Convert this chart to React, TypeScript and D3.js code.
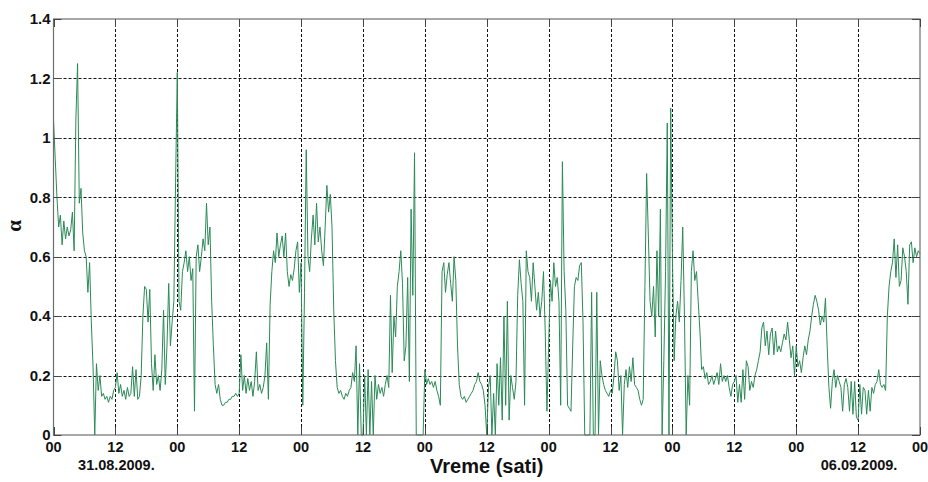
import React from "react";
import * as d3 from "d3";

// Chart geometry
const WIDTH = 928;
const HEIGHT = 482;
const PLOT = { left: 53.5, right: 920, top: 19, bottom: 435 };

// Samples are taken every 20 minutes (3 per hour), starting at 00h on 31.08.2009.
const SAMPLES_PER_HOUR = 3;

// alpha values, one array per day (72 samples each, the last day carries the closing 00h sample)
const alpha31Aug = [
  1.06, 0.93, 0.8, 0.7, 0.74, 0.64, 0.72, 0.66, 0.7, 0.67, 0.69, 0.75,
  0.62, 1.06, 1.25, 0.78, 0.83, 0.68, 0.62, 0.6, 0.48, 0.58, 0.38, 0.23,
  0.0, 0.24, 0.15, 0.2, 0.13, 0.14, 0.12, 0.13, 0.11, 0.13, 0.12, 0.15,
  0.16, 0.21, 0.14, 0.17, 0.13, 0.15, 0.12, 0.16, 0.13, 0.14, 0.23, 0.13,
  0.22, 0.12, 0.13, 0.2, 0.4, 0.5, 0.49, 0.38, 0.49, 0.24, 0.15, 0.27,
  0.17, 0.2, 0.15, 0.22, 0.42, 0.17, 0.3, 0.51, 0.3, 0.38, 0.45, 0.85,
];
const alpha01Sep = [
  1.22, 0.45, 0.42, 0.55, 0.58, 0.62, 0.55, 0.6, 0.52, 0.56, 0.08, 0.6,
  0.64, 0.55, 0.6, 0.66, 0.62, 0.78, 0.64, 0.7, 0.45, 0.3, 0.17, 0.14,
  0.17, 0.12, 0.1, 0.1, 0.11, 0.11, 0.12, 0.12, 0.13, 0.13, 0.14, 0.13,
  0.14, 0.27, 0.15, 0.2, 0.14, 0.19, 0.15, 0.18, 0.13, 0.18, 0.28, 0.15,
  0.17, 0.14, 0.16, 0.2, 0.31, 0.12, 0.44, 0.55, 0.62, 0.58, 0.68, 0.6,
  0.64, 0.67, 0.6, 0.68, 0.55, 0.5, 0.54, 0.52, 0.56, 0.62, 0.65, 0.48,
];
const alpha02Sep = [
  0.58, 0.1, 0.48, 0.96, 0.6, 0.55, 0.66, 0.74, 0.64, 0.78, 0.65, 0.7,
  0.62, 0.57, 0.7, 0.84, 0.75, 0.81, 0.7, 0.42, 0.25, 0.16, 0.14, 0.15,
  0.13, 0.12, 0.14, 0.13, 0.15, 0.16, 0.21, 0.18, 0.3, 0.0, 0.24, 0.0,
  0.0, 0.2, 0.0, 0.22, 0.0, 0.18, 0.0, 0.2, 0.12, 0.17, 0.14, 0.16,
  0.13, 0.17, 0.2, 0.16, 0.47, 0.21, 0.4, 0.33, 0.5, 0.55, 0.62, 0.51,
  0.25, 0.3, 0.53, 0.18, 0.76, 0.47, 0.95, 0.0, 0.0, 0.0, 0.0, 0.0,
];
const alpha03Sep = [
  0.22, 0.17, 0.19, 0.17, 0.18, 0.16, 0.18, 0.15, 0.13, 0.1, 0.55, 0.58,
  0.48, 0.54, 0.58, 0.51, 0.45, 0.6, 0.52, 0.3, 0.17, 0.13, 0.12, 0.13,
  0.11, 0.12, 0.13, 0.14, 0.15, 0.17, 0.18, 0.21, 0.18, 0.17, 0.15, 0.1,
  0.0, 0.16, 0.2, 0.0, 0.14, 0.0, 0.24, 0.1, 0.26, 0.05, 0.4, 0.1,
  0.45, 0.05, 0.2, 0.16, 0.12, 0.18, 0.47, 0.59, 0.51, 0.45, 0.1, 0.62,
  0.55, 0.53, 0.45, 0.58, 0.5, 0.42, 0.48, 0.4, 0.45, 0.55, 0.35, 0.08,
];
const alpha04Sep = [
  0.3, 0.52, 0.45, 0.58, 0.5, 0.53, 0.45, 0.1, 0.92, 0.55, 0.42, 0.1,
  0.09, 0.08, 0.3, 0.5, 0.53, 0.52, 0.57, 0.58, 0.38, 0.0, 0.0, 0.0,
  0.0, 0.48, 0.0, 0.0, 0.48, 0.0, 0.25, 0.2, 0.17, 0.15, 0.14, 0.13,
  0.15, 0.14, 0.2, 0.28, 0.25, 0.15, 0.2, 0.0, 0.17, 0.22, 0.16, 0.23,
  0.18, 0.26, 0.17, 0.16, 0.15, 0.12, 0.1, 0.12, 0.5, 0.88, 0.67, 0.45,
  0.4, 0.5, 0.33, 0.62, 0.4, 0.76, 0.0, 0.25, 0.55, 1.05, 0.0, 1.1,
];
const alpha05Sep = [
  0.6, 0.25, 0.4, 0.45, 0.38, 0.52, 0.7, 0.4, 0.0, 0.2, 0.1, 0.55,
  0.62, 0.52, 0.55, 0.45, 0.35, 0.22, 0.23, 0.19, 0.21, 0.17, 0.18, 0.2,
  0.17, 0.19, 0.21, 0.17, 0.24, 0.18, 0.2, 0.18, 0.2, 0.16, 0.13, 0.17,
  0.18, 0.2, 0.11, 0.17, 0.11, 0.22, 0.12, 0.25, 0.23, 0.15, 0.18, 0.16,
  0.2, 0.22, 0.25, 0.28, 0.36, 0.38, 0.3, 0.35, 0.27, 0.34, 0.36, 0.27,
  0.35, 0.28, 0.3, 0.28, 0.31, 0.34, 0.32, 0.38, 0.32, 0.26, 0.3, 0.2,
];
const alpha06Sep = [
  0.3, 0.23, 0.25, 0.21, 0.26, 0.3, 0.27, 0.32, 0.35, 0.4, 0.44, 0.47,
  0.45, 0.42, 0.37, 0.4, 0.38, 0.46, 0.3, 0.16, 0.09, 0.18, 0.22, 0.16,
  0.2, 0.18, 0.16, 0.08, 0.17, 0.19, 0.16, 0.08, 0.18, 0.07, 0.18, 0.06,
  0.05, 0.17, 0.07, 0.16, 0.15, 0.07, 0.15, 0.08, 0.16, 0.14, 0.17, 0.18,
  0.22, 0.17, 0.16, 0.17, 0.15, 0.4, 0.5, 0.55, 0.58, 0.66, 0.53, 0.64,
  0.5, 0.52, 0.63, 0.6, 0.55, 0.44, 0.64, 0.65, 0.58, 0.63, 0.6, 0.62,
  0.61,
];

const alpha = [
  ...alpha31Aug,
  ...alpha01Sep,
  ...alpha02Sep,
  ...alpha03Sep,
  ...alpha04Sep,
  ...alpha05Sep,
  ...alpha06Sep,
];

// Axis ticks
const xTickHours = d3.range(0, 169, 12);
const xTickLabels = xTickHours.map((h) => (h % 24 === 0 ? "00" : "12"));
const yTickValues = [0, 0.2, 0.4, 0.6, 0.8, 1.0, 1.2, 1.4];
const yTickLabels = ["0", "0.2", "0.4", "0.6", "0.8", "1", "1.2", "1.4"];
const dateHours = [12, 156];
const dateLabels = ["31.08.2009.", "06.09.2009."];

const FONT = "'Liberation Sans', Arial, Helvetica, sans-serif";
const LINE_COLOR = "#2b8a57";
const FRAME_COLOR = "#6e6e6e";
const TICK_LEN = 8;

export default function App() {
  const x = d3.scaleLinear().domain([0, 168]).range([PLOT.left, PLOT.right]);
  const y = d3.scaleLinear().domain([0, 1.4]).range([PLOT.bottom, PLOT.top]);

  const line = d3
    .line<number>()
    .x((_, i) => x(i / SAMPLES_PER_HOUR))
    .y((d) => y(d));

  const path = line(alpha) ?? "";

  return (
    <svg
      width={WIDTH}
      height={HEIGHT}
      style={{ position: "fixed", left: 0, top: 0, display: "block", background: "#fff" }}
    >
      <rect x={0} y={0} width={WIDTH} height={HEIGHT} fill="#fff" />

      {/* grid */}
      <g stroke="#111" strokeWidth={1} strokeDasharray="3,2" fill="none">
        {yTickValues.slice(1, -1).map((v) => (
          <line key={`gy${v}`} x1={PLOT.left} x2={PLOT.right} y1={Math.round(y(v)) + 0.5} y2={Math.round(y(v)) + 0.5} />
        ))}
        {xTickHours.slice(1, -1).map((h) => (
          <line key={`gx${h}`} x1={Math.round(x(h)) + 0.5} x2={Math.round(x(h)) + 0.5} y1={PLOT.top} y2={PLOT.bottom} />
        ))}
      </g>

      {/* data */}
      <path d={path} fill="none" stroke={LINE_COLOR} strokeWidth={1} strokeLinejoin="round" />

      {/* frame and inward ticks */}
      <rect
        x={PLOT.left}
        y={PLOT.top}
        width={PLOT.right - PLOT.left}
        height={PLOT.bottom - PLOT.top}
        fill="none"
        stroke={FRAME_COLOR}
        strokeWidth={1.2}
      />
      <g stroke="#444" strokeWidth={1}>
        {xTickHours.map((h) => (
          <g key={`tx${h}`}>
            <line x1={Math.round(x(h)) + 0.5} x2={Math.round(x(h)) + 0.5} y1={PLOT.bottom} y2={PLOT.bottom - TICK_LEN} />
            <line x1={Math.round(x(h)) + 0.5} x2={Math.round(x(h)) + 0.5} y1={PLOT.top} y2={PLOT.top + TICK_LEN} />
          </g>
        ))}
        {yTickValues.map((v) => (
          <g key={`ty${v}`}>
            <line x1={PLOT.left} x2={PLOT.left + TICK_LEN} y1={Math.round(y(v)) + 0.5} y2={Math.round(y(v)) + 0.5} />
            <line x1={PLOT.right} x2={PLOT.right - TICK_LEN} y1={Math.round(y(v)) + 0.5} y2={Math.round(y(v)) + 0.5} />
          </g>
        ))}
      </g>

      {/* y tick labels */}
      <g fontFamily={FONT} fontWeight="bold" fontSize={15} fill="#111" textAnchor="end">
        {yTickValues.map((v, i) => (
          <text key={`ly${v}`} x={PLOT.left - 3} y={y(v) + 5.3}>
            {yTickLabels[i]}
          </text>
        ))}
      </g>

      {/* x tick labels */}
      <g fontFamily={FONT} fontWeight="bold" fontSize={14.5} fill="#111" textAnchor="middle">
        {xTickHours.map((h, i) => (
          <text key={`lx${h}`} x={x(h)} y={452}>
            {xTickLabels[i]}
          </text>
        ))}
        {dateHours.map((h, i) => (
          <text key={`ld${h}`} x={x(h) + 1} y={470} fontSize={14.5}>
            {dateLabels[i]}
          </text>
        ))}
      </g>

      {/* axis titles */}
      <text
        x={(PLOT.left + PLOT.right) / 2}
        y={473}
        textAnchor="middle"
        fontFamily={FONT}
        fontWeight="bold"
        fontSize={20}
        fill="#111"
      >
        Vreme (sati)
      </text>
      <text
        transform={`translate(21, ${(PLOT.top + PLOT.bottom) / 2 - 1}) rotate(-90)`}
        textAnchor="middle"
        fontFamily="'Liberation Serif', 'DejaVu Serif', serif"
        fontWeight="bold"
        fontSize={21}
        fill="#111"
      >
        α
      </text>
    </svg>
  );
}
